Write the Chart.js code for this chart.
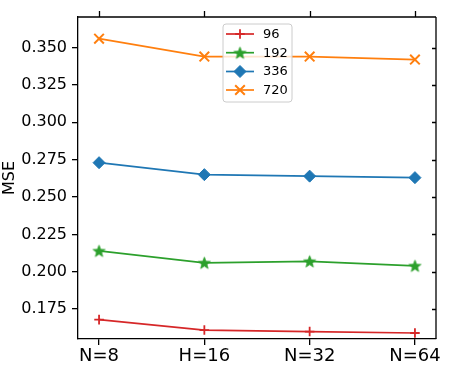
<!DOCTYPE html>
<html>
<head>
<meta charset="utf-8">
<script src="https://cdn.jsdelivr.net/npm/chart.js@4/dist/chart.umd.min.js"></script>
<style>
  html, body { margin: 0; padding: 0; background: #ffffff; }
  #wrap { position: relative; width: 454px; height: 379px; }
</style>
</head>
<body>
<div id="wrap"><canvas id="c" width="454" height="379"></canvas></div>
<script>
const categories = ['N=8', 'H=16', 'N=32', 'N=64'];
const seriesNames = ['96', '192', '336', '720'];
const series96  = [0.168, 0.161, 0.160, 0.159];
const series192 = [0.214, 0.206, 0.207, 0.204];
const series336 = [0.273, 0.265, 0.264, 0.263];
const series720 = [0.356, 0.344, 0.344, 0.342];
const yTickValues = [0.175, 0.200, 0.225, 0.250, 0.275, 0.300, 0.325, 0.350];
const yMin = 0.155, yMax = 0.3705;
const xMin = -0.2, xMax = 3.2;

const colors = ['#d62728', '#2ca02c', '#1f77b4', '#ff7f0e'];
const FONT = '"DejaVu Sans", "Liberation Sans", sans-serif';

function makeStar(color, outer) {
  const s = Math.ceil(outer * 2 + 2);
  const c = document.createElement('canvas');
  c.width = s; c.height = s;
  const ctx = c.getContext('2d');
  const cx = s / 2, cy = s / 2 + 0.6;
  const inner = outer * 0.42;
  ctx.beginPath();
  for (let i = 0; i < 10; i++) {
    const r = i % 2 === 0 ? outer : inner;
    const a = -Math.PI / 2 + i * Math.PI / 5;
    const px = cx + r * Math.cos(a), py = cy + r * Math.sin(a);
    if (i === 0) ctx.moveTo(px, py); else ctx.lineTo(px, py);
  }
  ctx.closePath();
  ctx.fillStyle = color;
  ctx.fill();
  ctx.strokeStyle = color;
  ctx.lineWidth = 0.8;
  ctx.stroke();
  return c;
}
const starImg = makeStar(colors[1], 6.3);

const allSeries = [series96, series192, series336, series720];
const markerCfg = [
  { pointStyle: 'cross', radius: 4.8, borderWidth: 1.8 },
  { pointStyle: starImg, radius: 5, borderWidth: 1 },
  { pointStyle: 'rectRot', radius: 6, borderWidth: 1 },
  { pointStyle: 'crossRot', radius: 6.8, borderWidth: 2 }
];

const datasets = allSeries.map((vals, i) => ({
  label: seriesNames[i],
  data: vals.map((v, j) => ({ x: j, y: v })),
  borderColor: colors[i],
  backgroundColor: colors[i],
  borderWidth: 1.7,
  tension: 0,
  pointStyle: markerCfg[i].pointStyle,
  pointRadius: markerCfg[i].radius,
  pointHoverRadius: markerCfg[i].radius,
  pointBorderWidth: markerCfg[i].borderWidth,
  pointBorderColor: colors[i],
  pointBackgroundColor: colors[i],
  clip: false
}));

const framePlugin = {
  id: 'frame',
  afterDatasetsDraw(chart) {
    const { ctx, chartArea: a, scales } = chart;
    ctx.save();
    ctx.strokeStyle = '#000';
    ctx.lineWidth = 1.3;
    ctx.beginPath();
    ctx.moveTo(a.left, a.top); ctx.lineTo(a.right, a.top);
    ctx.moveTo(a.right, a.top); ctx.lineTo(a.right, a.bottom);
    categories.forEach((_, i) => {
      const x = Math.round(scales.x.getPixelForValue(i)) + 0.5;
      ctx.moveTo(x, a.top); ctx.lineTo(x, a.top - 6);
    });
    yTickValues.forEach(v => {
      const y = Math.round(scales.y.getPixelForValue(v)) + 0.5;
      ctx.moveTo(a.right, y); ctx.lineTo(a.right - 4, y);
    });
    ctx.stroke();

    // legend
    const lx = a.left + 145, ly = a.top + 7, lw = 69, lh = 78;
    ctx.beginPath();
    if (ctx.roundRect) ctx.roundRect(lx, ly, lw, lh, 3); else ctx.rect(lx, ly, lw, lh);
    ctx.fillStyle = 'rgba(255,255,255,0.8)';
    ctx.fill();
    ctx.strokeStyle = '#cccccc';
    ctx.lineWidth = 1;
    ctx.stroke();
    const rowY = [ly + 10, ly + 28.7, ly + 47.5, ly + 66];
    seriesNames.forEach((name, i) => {
      const y = rowY[i];
      ctx.strokeStyle = colors[i];
      ctx.lineWidth = 1.7;
      ctx.beginPath();
      ctx.moveTo(lx + 3, y); ctx.lineTo(lx + 31, y);
      ctx.stroke();
      const mc = markerCfg[i];
      ctx.fillStyle = colors[i];
      ctx.strokeStyle = colors[i];
      ctx.lineWidth = mc.borderWidth;
      Chart.helpers.drawPoint(ctx, { pointStyle: mc.pointStyle, radius: mc.radius, rotation: 0, borderWidth: mc.borderWidth }, lx + 17, y);
      ctx.fillStyle = '#000';
      ctx.font = '13px ' + FONT;
      ctx.textBaseline = 'middle';
      ctx.textAlign = 'left';
      ctx.fillText(name, lx + 40, y + 0.5);
    });
    ctx.restore();
  }
};

new Chart(document.getElementById('c'), {
  type: 'line',
  data: { datasets },
  plugins: [framePlugin],
  options: {
    responsive: false,
    animation: false,
    events: [],
    layout: { padding: { left: 0, right: 18, top: 17, bottom: 0 } },
    plugins: { legend: { display: false }, tooltip: { enabled: false } },
    scales: {
      x: {
        type: 'linear',
        min: xMin, max: xMax,
        afterBuildTicks(scale) { scale.ticks = categories.map((_, i) => ({ value: i })); },
        afterFit(scale) { scale.height = 40; },
        ticks: {
          callback: (v) => categories[v] !== undefined ? categories[v] : '',
          color: '#000',
          font: { family: FONT, size: 18 },
          padding: 1,
          maxRotation: 0,
          autoSkip: false
        },
        grid: { display: true, drawOnChartArea: false, drawTicks: true, tickLength: 6, color: '#000', lineWidth: 1.3 },
        border: { display: true, color: '#000', width: 1.3 }
      },
      y: {
        type: 'linear',
        min: yMin, max: yMax,
        afterBuildTicks(scale) { scale.ticks = yTickValues.map(v => ({ value: v })); },
        afterFit(scale) { scale.width = 78; },
        ticks: {
          callback: (v) => v.toFixed(3),
          color: '#000',
          font: { family: FONT, size: 16 },
          padding: 5,
          autoSkip: false
        },
        title: {
          display: true,
          text: 'MSE',
          color: '#000',
          font: { family: FONT, size: 16 },
          padding: { top: 0, bottom: 0 }
        },
        grid: { display: true, drawOnChartArea: false, drawTicks: true, tickLength: 6, color: '#000', lineWidth: 1.3 },
        border: { display: true, color: '#000', width: 1.3 }
      }
    }
  }
});
</script>
</body>
</html>
